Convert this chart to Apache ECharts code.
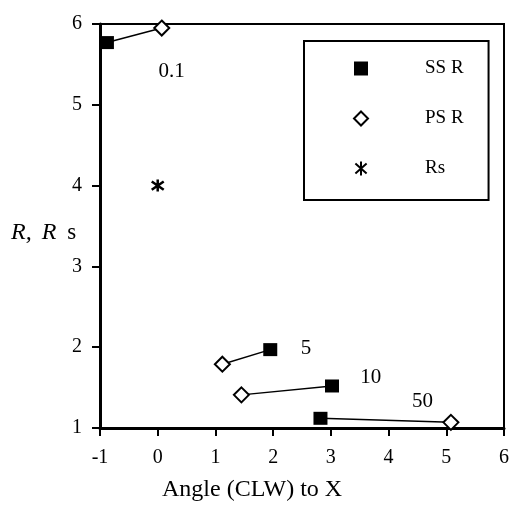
<!DOCTYPE html>
<html><head><meta charset="utf-8">
<script src="https://cdn.jsdelivr.net/npm/echarts@6/dist/echarts.min.js"></script>
<style>html,body{margin:0;padding:0;background:#fff}#c{width:512px;height:509px}</style>
</head><body><div id="c"></div>
<script>
// Data
const ssR = [[-0.88, 5.77], [1.95, 1.97], [3.02, 1.52], [2.82, 1.12]];
const psR = [[0.07, 5.95], [1.12, 1.79], [1.45, 1.41], [5.08, 1.07]];
const rs = [[0, 4]];
const pairLabels = ['0.1', '5', '10', '50'];
const pairLabelPos = [[0.24, 5.41], [2.57, 1.99], [3.69, 1.63], [4.59, 1.33]];
const xRange = [-1, 6];
const yRange = [1, 6];
const seriesNames = ['SS R', 'PS R', 'Rs'];

const FONT = 'Liberation Serif';
const STAR = 'path://M5,0L5,10M1,1.5L9,8.5M9,1.5L1,8.5';

const chart = echarts.init(document.getElementById('c'));

const pairLines = ssR.map((p, i) => ({
  type: 'line',
  name: 'pair' + i,
  data: [p, psR[i]],
  symbol: 'none',
  lineStyle: { color: '#000', width: 1.5 },
  silent: true,
  z: 1
}));

chart.setOption({
  animation: false,
  backgroundColor: '#fff',
  grid: { left: 100, right: 6, top: 24, bottom: 81, show: true, borderColor: '#000', borderWidth: 2 },
  xAxis: {
    type: 'value', min: xRange[0], max: xRange[1], interval: 1,
    splitLine: { show: false },
    axisLine: { show: true, onZero: false, lineStyle: { color: '#000', width: 3 } },
    axisTick: { show: true, length: 8, lineStyle: { color: '#000', width: 2 } },
    axisLabel: { color: '#000', fontFamily: FONT, fontSize: 20, margin: 20 }
  },
  yAxis: {
    type: 'value', min: yRange[0], max: yRange[1], interval: 1,
    splitLine: { show: false },
    axisLine: { show: true, onZero: false, lineStyle: { color: '#000', width: 3 } },
    axisTick: { show: true, length: 8, lineStyle: { color: '#000', width: 2 } },
    axisLabel: { color: '#000', fontFamily: FONT, fontSize: 20, margin: 18 }
  },
  legend: {
    data: [
      { name: seriesNames[0], icon: 'rect' },
      { name: seriesNames[1], icon: 'diamond' },
      { name: seriesNames[2], icon: STAR }
    ],
    orient: 'vertical',
    left: 304, top: 41,
    padding: [13, 25, 17, 49],
    itemGap: 21,
    itemWidth: 14, itemHeight: 14,
    borderColor: '#000', borderWidth: 2, borderRadius: 0,
    textStyle: { fontFamily: FONT, fontSize: 19, lineHeight: 19, color: '#000', padding: [10, 0, 0, 52] },
    selectedMode: false
  },
  graphic: [
    {
      type: 'text', left: 162, top: 478,
      style: { text: 'Angle (CLW) to X', font: '24px "Liberation Serif"', fill: '#000' }
    },
    {
      type: 'text', left: 11, top: 221,
      style: {
        text: '{i|R,}{g|}{i|R}{g2|}{s|s}',
        rich: {
          i: { fontFamily: FONT, fontStyle: 'italic', fontSize: 24, fill: '#000' },
          g: { width: 10 },
          g2: { width: 11 },
          s: { fontFamily: FONT, fontSize: 23, fill: '#000' }
        }
      }
    }
  ],
  series: [
    ...pairLines,
    {
      type: 'scatter', name: seriesNames[0], data: ssR,
      symbol: 'rect', symbolSize: [14, 13],
      itemStyle: { color: '#000', opacity: 1 }, z: 3
    },
    {
      type: 'scatter', name: seriesNames[1], data: psR,
      symbol: 'diamond', symbolSize: 15,
      itemStyle: { color: '#fff', borderColor: '#000', borderWidth: 2, opacity: 1 }, z: 3
    },
    {
      type: 'scatter', name: seriesNames[2], data: rs,
      symbol: STAR, symbolSize: 12,
      itemStyle: { color: 'transparent', borderColor: '#000', borderWidth: 2.5, opacity: 1 }, z: 3
    },
    {
      type: 'scatter', name: 'labels',
      data: pairLabelPos.map((p, i) => ({ value: p, label: { formatter: pairLabels[i] } })),
      symbolSize: 1, itemStyle: { color: 'transparent', opacity: 1 }, silent: true,
      label: { show: true, position: 'inside', fontFamily: FONT, fontSize: 21, color: '#000' },
      z: 4
    }
  ]
});
</script></body></html>
